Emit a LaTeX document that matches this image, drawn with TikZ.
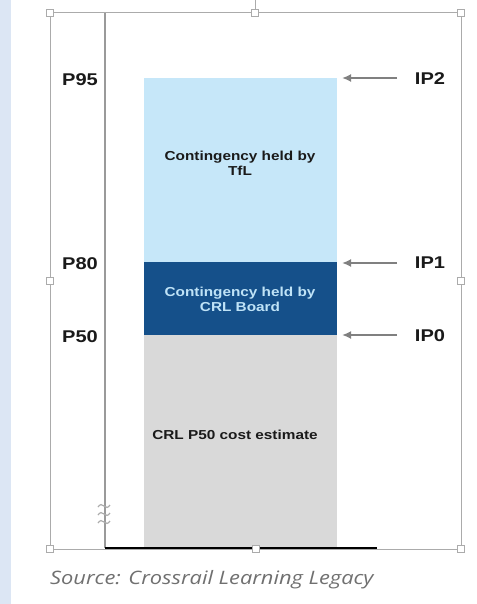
\documentclass[tikz,border=0pt]{standalone}
\usepackage{fontspec}
\usepackage{graphicx}
\setmainfont{Liberation Sans}
\newfontfamily\srcfont{Open Sans}
\usetikzlibrary{arrows.meta}
\newcommand{\hs}[1]{\scalebox{1.18}[1]{#1}}
\definecolor{stripblue}{HTML}{DCE6F4}
\definecolor{lightbar}{HTML}{C6E7F9}
\definecolor{darkbar}{HTML}{15508A}
\definecolor{graybar}{HTML}{D9D9D9}
\definecolor{frame}{HTML}{ABABAB}
\definecolor{labtext}{HTML}{1A1A1A}
\definecolor{arrowgray}{HTML}{808080}
\definecolor{srcgray}{HTML}{707070}
\definecolor{lighttext}{HTML}{BFE3F7}
\tikzset{
  handle/.style={draw=frame, fill=white, minimum size=7pt, inner sep=0pt, line width=0.8pt},
  plab/.style={font=\bfseries\fontsize{17}{17}\selectfont, text=labtext, inner sep=0pt},
  barlab/.style={font=\bfseries\fontsize{13}{15}\selectfont, align=center, inner sep=0pt},
  ptr/.style={draw=arrowgray, line width=1.8pt, -{Latex[length=9pt,width=8pt]}},
}
\begin{document}
\begin{tikzpicture}[x=1pt,y=-1pt]
\useasboundingbox (0,0) rectangle (476,604);
\fill[white] (0,0) rectangle (476,604);
\fill[stripblue] (0,0) rectangle (11,604);
% bars
\fill[lightbar] (144,78) rectangle (337,262);
\fill[darkbar] (144,262) rectangle (337,335);
\fill[graybar] (144,335) rectangle (337,548);
% axes
\draw[frame!120, line width=1.4pt] (105,13) -- (105,548);
\draw[black, line width=1.8pt] (105,548) -- (377,548);
% axis break
\foreach \yy in {506,514,522}{
  \draw[frame, line width=1.2pt] (98,\yy+1) .. controls (100,\yy-2) and (102,\yy-2) .. (104,\yy)
    .. controls (106,\yy+2) and (108,\yy+2) .. (110,\yy-1);
}
% selection frame
\draw[frame, line width=1pt] (50,13) rectangle (461,549);
\draw[frame, line width=1pt] (255,0) -- (255,13);
\node[handle] (h1) at (50,13) {};
\node[handle] (h2) at (255,13) {};
\node[handle] (h3) at (461,13) {};
\node[handle] (h4) at (50,281) {};
\node[handle] (h5) at (461,281) {};
\node[handle] (h6) at (50,549) {};
\node[handle] (h7) at (256,549) {};
\node[handle] (h8) at (461,549) {};
% bar labels
\node[barlab, text=labtext] (tfl) at (240,163) {\hs{Contingency held by}\\\hs{TfL}};
\node[barlab, text=lighttext] (crl) at (240,299) {\hs{Contingency held by}\\\hs{CRL Board}};
\node[barlab, text=labtext] (est) at (235,435) {\hs{CRL P50 cost estimate}};
% P labels
\node[plab] (p95) at (80,80) {\hs{P95}};
\node[plab] (p80) at (80,264) {\hs{P80}};
\node[plab] (p50) at (80,337) {\hs{P50}};
% IP labels and arrows
\node[plab] (ip2) at (430,79) {\hs{IP2}};
\node[plab] (ip1) at (430,263) {\hs{IP1}};
\node[plab] (ip0) at (430,336) {\hs{IP0}};
\coordinate (t2) at (342,78);
\coordinate (t1) at (342,263);
\coordinate (t0) at (342,335);
\coordinate (s2) at (397,78);
\coordinate (s1) at (397,263);
\coordinate (s0) at (397,335);
\draw[ptr] (s2) -- (t2);
\draw[ptr] (s1) -- (t1);
\draw[ptr] (s0) -- (t0);
% source
\node[anchor=west, inner sep=0pt, font=\srcfont\itshape\fontsize{18.5}{19}\selectfont, text=srcgray] (src) at (50,580) {\hs{Source: Crossrail Learning Legacy}};
\end{tikzpicture}
\end{document}
